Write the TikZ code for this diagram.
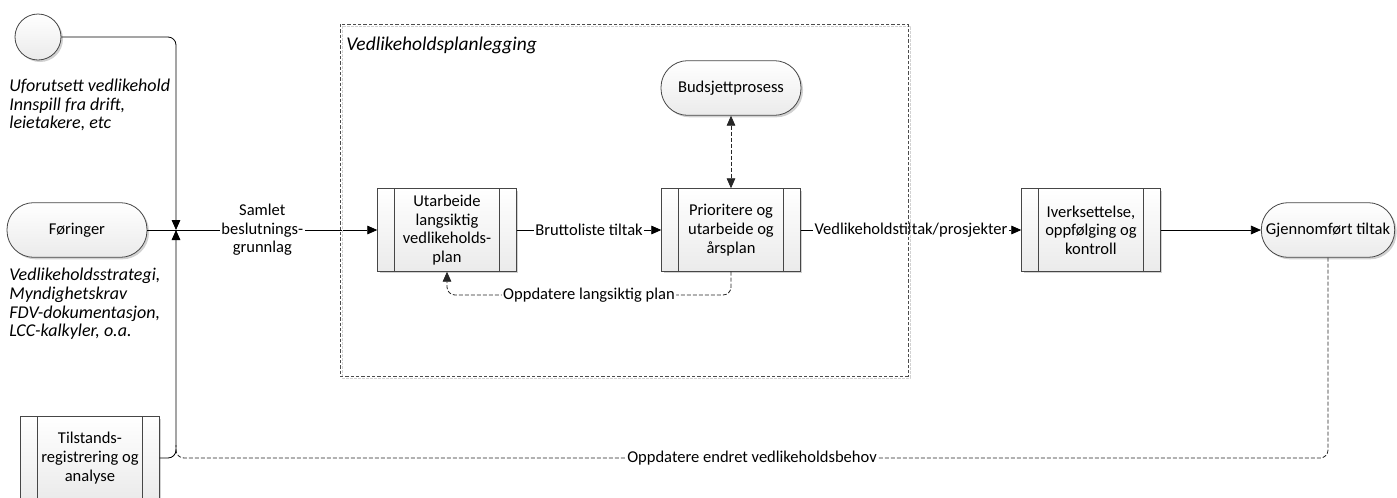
\documentclass[tikz,border=0pt]{standalone}
\usepackage{fontspec}
\setmainfont{Carlito}
\usetikzlibrary{arrows.meta,shadows}

\tikzset{
  base/.style={font=\fontsize{12.4}{14}\selectfont},
  shade/.style={top color=white, bottom color=gray!16, drop shadow={shadow xshift=1.5pt, shadow yshift=-1.5pt, fill=black, opacity=0.18}},
  procbox/.style={base, shade, draw=gray!55!black, minimum width=104pt, minimum height=62pt, align=center, inner sep=2pt},
  termnode/.style={base, shade, draw=gray!55!black, minimum width=105pt, minimum height=41pt, rounded corners=20pt, align=center},
  flow/.style={draw=black, -{Triangle[length=7.5pt,width=6.5pt]}},
  fb/.style={draw=gray!30!black, dash pattern=on 3pt off 1.5pt},
  lbl/.style={base, fill=white, inner sep=1pt, align=center},
  note/.style={font=\fontsize{13.5}{14}\selectfont\itshape, align=left, anchor=west, inner sep=0pt},
}

\begin{document}
\begin{tikzpicture}[x=0.75pt, y=-0.75pt, line width=0.6pt]
  \useasboundingbox (0,0) rectangle (1397,497);

  % inputs
  \node[circle, draw=gray!55!black, shade, minimum size=34.5pt, inner sep=0pt] (circ) at (38,37) {};
  \node[note] (ufor) at (9,105) {Uforutsett vedlikehold\\Innspill fra drift,\\leietakere, etc};
  \node[termnode] (foer) at (77,230) {Føringer};
  \node[note] (strat) at (9,304) {Vedlikeholdsstrategi,\\Myndighetskrav\\FDV-dokumentasjon,\\LCC-kalkyler, o.a.};
  \node[procbox] (tilst) at (90,458) {Tilstands-\\registrering og\\analyse};
  \coordinate (junc) at (176,230);

  % processes
  \node[font=\fontsize{14.6}{16}\selectfont\itshape, anchor=west, inner sep=0pt] (plan) at (346,45) {Vedlikeholdsplanlegging};
  \node[procbox] (utarb) at (447,230) {Utarbeide\\langsiktig\\vedlikeholds-\\plan};
  \node[procbox] (prior) at (731,230) {Prioritere og\\utarbeide og\\årsplan};
  \node[termnode] (budsj) at (731,88) {Budsjettprosess};
  \node[procbox] (iverk) at (1091,230) {Iverksettelse,\\oppfølging og\\kontroll};
  \node[termnode, minimum width=100pt] (gjen) at (1328,230) {Gjennomført tiltak};

  \foreach \b in {tilst,utarb,prior,iverk} {
    \draw[gray!55!black] ([xshift=12.75pt]\b.north west) -- ([xshift=12.75pt]\b.south west);
    \draw[gray!55!black] ([xshift=-12.75pt]\b.north east) -- ([xshift=-12.75pt]\b.south east);
  }

  % connectors
  \draw[flow, rounded corners=6pt] (circ.east) -| (junc);
  \draw[flow, rounded corners=6pt] (tilst.east) -| (junc);
  \draw[flow] (foer) -- node[lbl] {Samlet\\beslutnings-\\grunnlag} (utarb);
  \draw[flow] (utarb) -- node[lbl] {Bruttoliste tiltak} (prior);
  \draw[flow] (prior) -- node[lbl] {Vedlikeholdstiltak/prosjekter} (iverk);
  \draw[flow] (iverk) -- (gjen);
  \draw[fb, {Triangle[length=7.5pt,width=6.5pt]}-{Triangle[length=7.5pt,width=6.5pt]}] (budsj) -- (prior);

  \coordinate (lp) at (589,295);
  \draw[fb, rounded corners=6pt, -{Triangle[length=7.5pt,width=6.5pt]}] (prior.south) |- (lp) node[lbl] {Oppdatere langsiktig plan} -| (utarb.south);

  \coordinate (fbend) at (176,445);
  \draw[fb, rounded corners=6pt] (gjen.south) |- (tilst.east -| junc) node[lbl, pos=0.75] {Oppdatere endret vedlikeholdsbehov} -- (fbend);

  % planning container
  \draw[gray!35, line width=0.4pt, dash pattern=on 2pt off 1pt] (342,26) rectangle (910,378);
  \draw[gray!60!black, line width=0.5pt, dash pattern=on 2.5pt off 1.5pt] (340,24) rectangle (908,376);
\end{tikzpicture}
\end{document}
